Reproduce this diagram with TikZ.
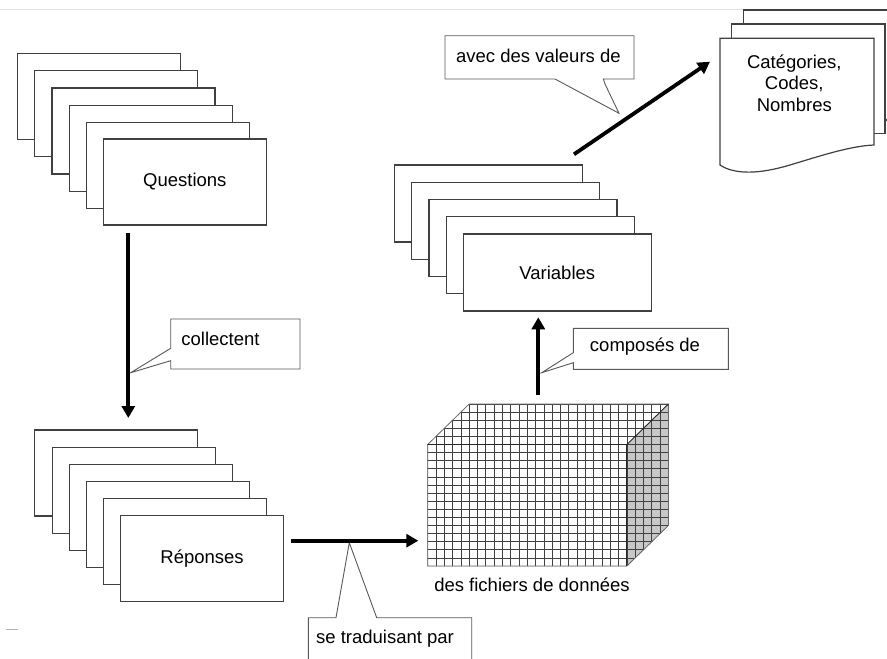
\documentclass[tikz,border=0pt]{standalone}
\usepackage{fontspec}
\setmainfont{Liberation Sans}
\usetikzlibrary{arrows.meta}
\begin{document}
\begin{tikzpicture}[x=1pt,y=-1pt,
  txt/.style={font=\fontsize{18.5}{21.7}\selectfont, inner sep=0pt},
  card/.style={draw=black!75, line width=1.2pt, fill=white, inner sep=0pt, anchor=north west, txt},
  qcard/.style={card, minimum width=163pt, minimum height=86pt},
  vcard/.style={card, minimum width=188pt, minimum height=77pt},
  callout/.style={draw=black!65, line width=0.9pt, fill=white},
  arr/.style={line width=3.8pt, -{Triangle[length=12pt,width=13pt]}},
  gridline/.style={draw=black!75, line width=0.8pt},
]
\useasboundingbox (0,0) rectangle (887,659);
\clip (0,0) rectangle (887,659);
\fill[white] (0,0) rectangle (887,659);
% page top line and small mark
\draw[black!12, line width=1pt] (0,9) -- (887,9);
\draw[black!30, line width=0.8pt] (6,629.3) -- (18,629.3);

% Questions stack
\node[qcard] (q1) at (16.7,52.7) {};
\node[qcard] (q2) at (33.9,69.9) {};
\node[qcard] (q3) at (51.3,87.3) {};
\node[qcard] (q4) at (68.6,104.5) {};
\node[qcard] (q5) at (85.9,121.6) {};
\node[qcard] (q6) at (102.7,138.3) {Questions};

% Reponses stack
\node[qcard] (r1) at (34,429.3) {};
\node[qcard] (r2) at (51.5,446.6) {};
\node[qcard] (r3) at (69,463.9) {};
\node[qcard] (r4) at (86,481.1) {};
\node[qcard] (r5) at (102.7,498) {};
\node[qcard] (r6) at (120,515) {Réponses};

% Variables stack
\node[vcard] (v1) at (394,164.3) {};
\node[vcard] (v2) at (411.2,181.6) {};
\node[vcard] (v3) at (428.4,198.8) {};
\node[vcard] (v4) at (445.5,216) {};
\node[vcard] (v5) at (462.7,233.3) {Variables};

% Document stack
\draw[callout, draw=black!75, line width=1.2pt] (743.3,10) rectangle (900,120);
\draw[callout, draw=black!75, line width=1.2pt] (731.7,24) rectangle (885,133.3);
\draw[callout, draw=black!75, line width=1.2pt] (720,165) -- (720,38.3) -- (874,38.3) -- (874,145)
  .. controls (850,146) and (820,156) .. (790,165)
  .. controls (760,174) and (735,175) .. (720,165) -- cycle;
\node[txt, align=center] (docs) at (794.3,83) {Catégories,\\Codes,\\Nombres};

% Cube of data files
\begin{scope}
  \clip (427.7,566) -- (427.7,444.5) -- (469.2,404) -- (668.4,404) -- (668.4,525.5) -- (626.9,566) -- cycle;
  \fill[white] (420,400) rectangle (672,570);
  \fill[black!22] (626.9,444.5) -- (668.4,404) -- (668.4,525.5) -- (626.9,566) -- cycle;
  \foreach \i in {0,...,29} \draw[gridline] (427.7+\i*8.3,400) -- ++(0,170);
  \foreach \j in {0,...,20} \draw[gridline] (420,404+\j*8.1) -- ++(252,0);
\end{scope}
\draw[black!60, line width=0.8pt] (427.7,566) -- (427.7,444.5) -- (469.2,404) -- (668.4,404) -- (668.4,525.5) -- (626.9,566) -- cycle;
\draw[black!85, line width=0.9pt] (427.7,444.5) -- (626.9,444.5) -- (668.4,404);
\draw[black!85, line width=0.9pt] (626.9,444.5) -- (626.9,566);
\node[txt] (cube) at (532,585) {des fichiers de données};

% Callouts
\draw[callout] (170.7,319) -- (300,319) -- (300,369) -- (170.7,369) -- (170.7,360.7) -- (130.7,372.7) -- (170.7,348.3) -- cycle;
\node[txt] (lcollect) at (220.5,339) {collectent};

\draw[callout] (573.3,328.3) -- (728.3,328.3) -- (728.3,369.3) -- (573.3,369.3) -- (573.3,362.7) -- (541.7,372.7) -- (573.3,352.7) -- cycle;
\node[txt] (lcompose) at (645,346.7) {composés de};

\draw[callout] (445,35.7) -- (634,35.7) -- (634,79) -- (603.3,79) -- (605,84) -- (619,113.3) -- (555,79) -- (445,79) -- cycle;
\node[txt] (lavec) at (538.4,56) {avec des valeurs de};

\draw[callout] (308.3,680) -- (308.3,617.7) -- (336,617.7) -- (349.3,542.7) -- (376.7,617.7) -- (471.7,617.7) -- (471.7,680);
\node[txt] (ltrad) at (385,639) {se traduisant par};

% Arrows
\coordinate (qout) at (128.3,232.7);
\coordinate (rin) at (128.3,418);
\coordinate (rout) at (290.7,540.7);
\coordinate (cin) at (418.3,540.7);
\coordinate (cout) at (538.3,395);
\coordinate (vin) at (538.3,317.3);
\coordinate (vout) at (574,154.3);
\coordinate (din) at (710,61.7);
\draw[arr] (qout) -- (rin);
\draw[arr] (rout) -- (cin);
\draw[arr] (cout) -- (vin);
\draw[arr] (vout) -- (din);
\end{tikzpicture}
\end{document}
